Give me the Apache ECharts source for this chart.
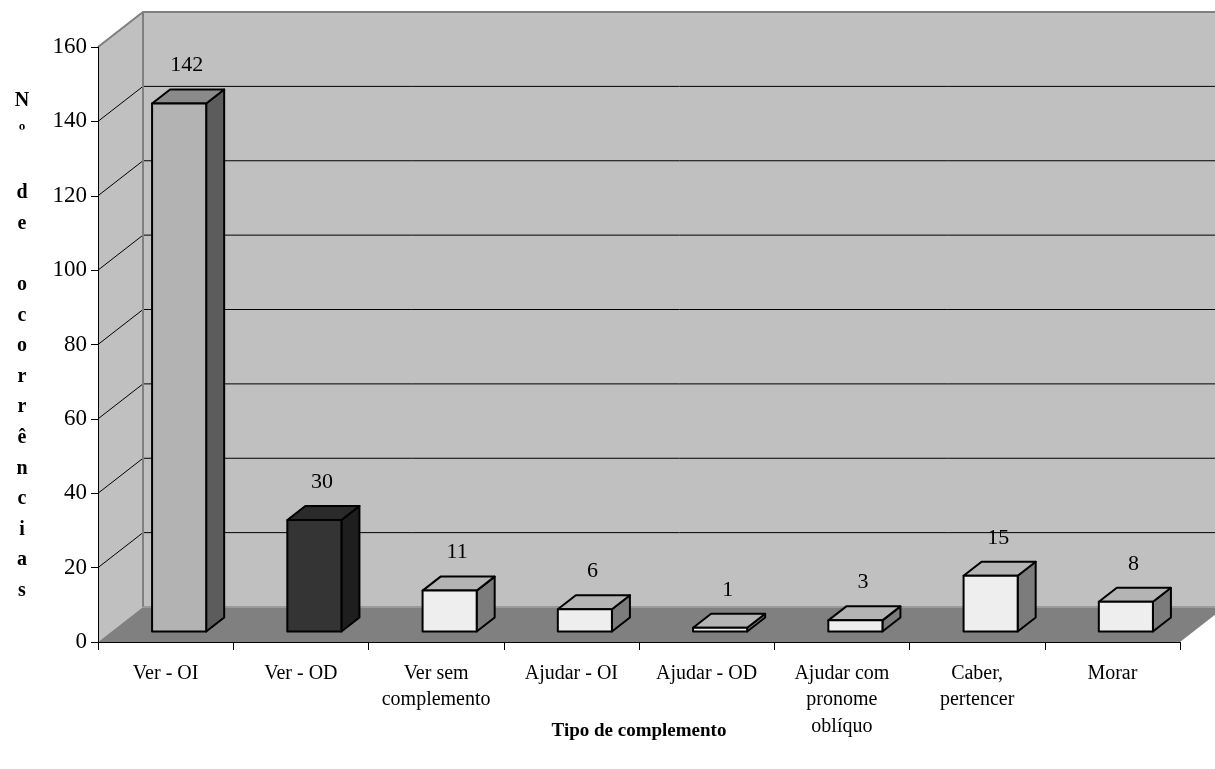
<!DOCTYPE html>
<html>
<head>
<meta charset="utf-8">
<title>Tipo de complemento</title>
<script src="https://cdn.jsdelivr.net/npm/echarts@6/dist/echarts.min.js"></script>
<style>
  html, body { margin: 0; padding: 0; background: #fff; }
  #chart { width: 1215px; height: 769px; }
</style>
</head>
<body>
<div id="chart"></div>
<script>
// Occurrences per complement type
const categories = [
  'Ver - OI',
  'Ver - OD',
  'Ver sem\ncomplemento',
  'Ajudar - OI',
  'Ajudar - OD',
  'Ajudar com\npronome\noblíquo',
  'Caber,\npertencer',
  'Morar'
];
const occurrences = [142, 30, 11, 6, 1, 3, 15, 8];
const yMin = 0;
const yMax = 160;
const yStep = 20;
const yAxisTitle = 'Nº de ocorrências';
const xAxisTitle = 'Tipo de complemento';

// Face shading (front, top, side) for each column
const faceColors = [
  ['#B3B3B3', '#8A8A8A', '#5C5C5C'],
  ['#343434', '#2A2A2A', '#1E1E1E'],
  ['#EEEEEE', '#B4B4B4', '#7C7C7C'],
  ['#EEEEEE', '#B4B4B4', '#7C7C7C'],
  ['#EEEEEE', '#B4B4B4', '#7C7C7C'],
  ['#EEEEEE', '#B4B4B4', '#7C7C7C'],
  ['#EEEEEE', '#B4B4B4', '#7C7C7C'],
  ['#EEEEEE', '#B4B4B4', '#7C7C7C']
];

const FONT = '"Liberation Serif", "Times New Roman", serif';
// Depth of the plot box (pixels) and placement of the columns inside it
const DEPTH = [45, -35];
const COL_FRONT = [13.5, -10.5];
const COL_DEPTH = [18, -14];
const COL_WIDTH = 0.4;

function renderWalls(params, api) {
  if (params.dataIndex !== 0) return;
  const cs = params.coordSys;
  const x0 = cs.x, x1 = cs.x + cs.width;
  const yTop = cs.y, yBot = cs.y + cs.height;
  const dx = DEPTH[0], dy = DEPTH[1];
  const children = [];
  // back wall
  children.push({
    type: 'polygon',
    shape: { points: [[x0 + dx, yTop + dy], [x1 + dx, yTop + dy], [x1 + dx, yBot + dy], [x0 + dx, yBot + dy]] },
    style: { fill: '#C0C0C0', stroke: null }
  });
  // left wall
  children.push({
    type: 'polygon',
    shape: { points: [[x0, yTop], [x0 + dx, yTop + dy], [x0 + dx, yBot + dy], [x0, yBot]] },
    style: { fill: '#C0C0C0', stroke: null }
  });
  // floor
  children.push({
    type: 'polygon',
    shape: { points: [[x0, yBot], [x1, yBot], [x1 + dx, yBot + dy], [x0 + dx, yBot + dy]] },
    style: { fill: '#808080', stroke: null }
  });
  // gridlines on back and left walls
  for (let v = yMin + yStep; v < yMax; v += yStep) {
    const yv = api.coord([0, v])[1];
    children.push({
      type: 'line',
      shape: { x1: x0 + dx, y1: yv + dy, x2: x1 + dx, y2: yv + dy },
      style: { stroke: '#000', lineWidth: 1 }
    });
    children.push({
      type: 'line',
      shape: { x1: x0, y1: yv, x2: x0 + dx, y2: yv + dy },
      style: { stroke: '#000', lineWidth: 1 }
    });
  }
  // wall outlines
  children.push({
    type: 'polyline',
    shape: { points: [[x0, yTop], [x0 + dx, yTop + dy], [x1 + dx, yTop + dy]] },
    style: { stroke: '#808080', lineWidth: 2, fill: null }
  });
  children.push({
    type: 'line',
    shape: { x1: x0 + dx, y1: yTop + dy, x2: x0 + dx, y2: yBot + dy },
    style: { stroke: '#808080', lineWidth: 2 }
  });
  children.push({
    type: 'line',
    shape: { x1: x0 + dx, y1: yBot + dy, x2: x1 + dx, y2: yBot + dy },
    style: { stroke: '#9A9A9A', lineWidth: 2 }
  });
  return { type: 'group', children: children };
}

function renderColumn(params, api) {
  const i = api.value(0);
  const v = api.value(1);
  const base = api.coord([i, 0]);
  const top = api.coord([i, v]);
  const bw = api.size([1, 0])[0] * COL_WIDTH;
  const xl = base[0] - bw / 2 + COL_FRONT[0];
  const xr = xl + bw;
  const yb = base[1] + COL_FRONT[1];
  const yt = top[1] + COL_FRONT[1];
  const ddx = COL_DEPTH[0], ddy = COL_DEPTH[1];
  const c = faceColors[params.dataIndex];
  const edge = { stroke: '#000', lineWidth: 2, lineJoin: 'round' };
  return {
    type: 'group',
    children: [
      {
        type: 'polygon',
        shape: { points: [[xr, yt], [xr + ddx, yt + ddy], [xr + ddx, yb + ddy], [xr, yb]] },
        style: Object.assign({ fill: c[2] }, edge)
      },
      {
        type: 'polygon',
        shape: { points: [[xl, yt], [xr, yt], [xr + ddx, yt + ddy], [xl + ddx, yt + ddy]] },
        style: Object.assign({ fill: c[1] }, edge)
      },
      {
        type: 'polygon',
        shape: { points: [[xl, yt], [xr, yt], [xr, yb], [xl, yb]] },
        style: Object.assign({ fill: c[0] }, edge)
      },
      {
        type: 'text',
        x: base[0] + 21,
        y: yt - 38,
        style: {
          text: String(v),
          font: '22px ' + FONT,
          fill: '#000',
          align: 'center',
          verticalAlign: 'middle'
        }
      }
    ]
  };
}

const chart = echarts.init(document.getElementById('chart'), null, { renderer: 'canvas' });
chart.setOption({
  animation: false,
  backgroundColor: '#fff',
  grid: { left: 98, right: 35, top: 47, bottom: 127, containLabel: false },
  xAxis: {
    type: 'category',
    data: categories,
    boundaryGap: true,
    z: 10,
    axisLine: { lineStyle: { color: '#000', width: 1 } },
    axisTick: { show: true, length: 8, alignWithLabel: false, lineStyle: { color: '#000' } },
    axisLabel: {
      interval: 0,
      margin: 18,
      fontSize: 20,
      lineHeight: 26.5,
      fontFamily: FONT,
      color: '#000'
    },
    splitLine: { show: false },
    name: xAxisTitle,
    nameLocation: 'middle',
    nameGap: 80,
    nameMoveOverlap: false,
    nameTextStyle: { fontFamily: FONT, fontSize: 19, fontWeight: 'bold', color: '#000' }
  },
  yAxis: {
    type: 'value',
    min: yMin,
    max: yMax,
    interval: yStep,
    z: 10,
    axisLine: { show: true, lineStyle: { color: '#000', width: 1 } },
    axisTick: { show: true, length: 7, lineStyle: { color: '#000' } },
    axisLabel: { fontSize: 23, margin: 11, fontFamily: FONT, color: '#000' },
    splitLine: { show: false }
  },
  graphic: [
    {
      type: 'text',
      x: 22,
      y: 346,
      style: {
        text: yAxisTitle.split('').join('\n'),
        font: 'bold 20px ' + FONT,
        lineHeight: 30.6,
        fill: '#000',
        align: 'center',
        verticalAlign: 'middle'
      }
    }
  ],
  series: [
    {
      type: 'custom',
      name: 'walls',
      z: 1,
      silent: true,
      clip: false,
      data: [[0, 0]],
      renderItem: renderWalls
    },
    {
      type: 'custom',
      name: 'occurrences',
      z: 2,
      clip: false,
      data: occurrences.map((v, i) => [i, v]),
      renderItem: renderColumn
    }
  ]
});
</script>
</body>
</html>
